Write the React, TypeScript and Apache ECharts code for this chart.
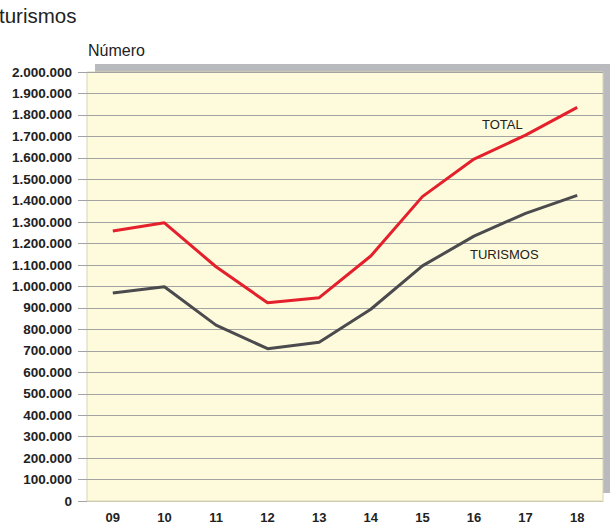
import React, { useEffect, useRef } from "react";
import * as echarts from "echarts";

const categories = ["09", "10", "11", "12", "13", "14", "15", "16", "17", "18"];
const totalValues = [1259000, 1297000, 1092000, 924000, 948000, 1142000, 1419000, 1594000, 1706000, 1835000];
const turismosValues = [970000, 999000, 820000, 710000, 740000, 894000, 1096000, 1235000, 1341000, 1425000];
const yMin = 0;
const yMax = 2000000;
const yStep = 100000;

const fmt = (v: number) => String(v).replace(/\B(?=(\d{3})+(?!\d))/g, ".");

export default function App() {
  const ref = useRef<HTMLDivElement>(null);
  useEffect(() => {
    if (!ref.current) return;
    const chart = echarts.init(ref.current, undefined, { renderer: "svg" });
    const font = "'Liberation Sans', Arial, sans-serif";
    chart.setOption({
      animation: false,
      backgroundColor: "#ffffff",
      textStyle: { fontFamily: font },
      grid: {
        left: 87,
        top: 72,
        width: 516,
        height: 429,
        show: true,
        backgroundColor: "#fefbdd",
        borderColor: "#d8d4b4",
        borderWidth: 1,
        containLabel: false,
      },
      graphic: [
        {
          type: "rect",
          z: -10,
          shape: { x: 95, y: 64, width: 515, height: 429 },
          style: { fill: "#b9babd" },
          silent: true,
        },
        {
          type: "text",
          left: -1,
          top: 5,
          style: { text: "turismos", font: `20.5px ${font}`, fill: "#222222" },
        },
        {
          type: "text",
          left: 88,
          top: 42,
          style: { text: "Número", font: `16px ${font}`, fill: "#222222" },
        },
        {
          type: "text",
          left: 482,
          top: 118,
          z: 10,
          style: { text: "TOTAL", font: `13px ${font}`, fill: "#222222" },
        },
        {
          type: "text",
          left: 470,
          top: 248,
          z: 10,
          style: { text: "TURISMOS", font: `13px ${font}`, fill: "#222222" },
        },
      ],
      xAxis: {
        type: "category",
        data: categories,
        boundaryGap: true,
        axisLine: { show: true, lineStyle: { color: "#cfcbad", width: 1 } },
        axisTick: { show: false },
        axisLabel: {
          margin: 10,
          fontSize: 13,
          fontWeight: "bold",
          color: "#222222",
          fontFamily: font,
        },
        splitLine: { show: false },
      },
      yAxis: {
        type: "value",
        min: yMin,
        max: yMax,
        interval: yStep,
        axisLine: { show: false },
        axisTick: { show: true, inside: false, length: 9, lineStyle: { color: "#a3a3a3" } },
        axisLabel: {
          margin: 15,
          fontSize: 13.5,
          fontWeight: "bold",
          color: "#222222",
          fontFamily: font,
          formatter: (v: number) => fmt(v),
        },
        splitLine: { show: true, lineStyle: { color: "#a3a3a3", width: 1 } },
      },
      series: [
        {
          name: "TOTAL",
          type: "line",
          data: totalValues,
          symbol: "none",
          lineStyle: { color: "#e3202b", width: 3 },
          z: 5,
        },
        {
          name: "TURISMOS",
          type: "line",
          data: turismosValues,
          symbol: "none",
          lineStyle: { color: "#4b4b4e", width: 3 },
          z: 5,
        },
      ],
    });
    return () => chart.dispose();
  }, []);
  return (
    <div
      ref={ref}
      style={{ position: "fixed", left: 0, top: 0, width: 612, height: 529 }}
    />
  );
}
